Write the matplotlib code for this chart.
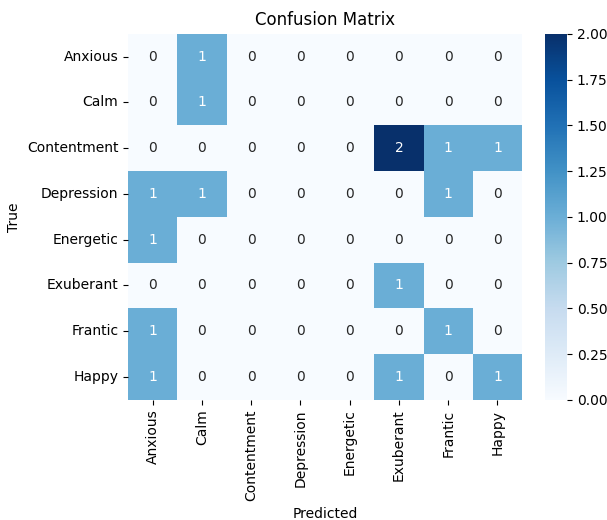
import matplotlib
matplotlib.use("Agg")
import matplotlib.pyplot as plt
import seaborn as sns
import numpy as np

labels = ["Anxious", "Calm", "Contentment", "Depression", "Energetic", "Exuberant", "Frantic", "Happy"]
cm = np.array([
    [0, 1, 0, 0, 0, 0, 0, 0],
    [0, 1, 0, 0, 0, 0, 0, 0],
    [0, 0, 0, 0, 0, 2, 1, 1],
    [1, 1, 0, 0, 0, 0, 1, 0],
    [1, 0, 0, 0, 0, 0, 0, 0],
    [0, 0, 0, 0, 0, 1, 0, 0],
    [1, 0, 0, 0, 0, 0, 1, 0],
    [1, 0, 0, 0, 0, 1, 0, 1],
])

fig = plt.figure(figsize=(6.07, 5.2), dpi=100)
ax = fig.add_axes([0.211, 0.231, 0.649, 0.704])
cax = fig.add_axes([0.898, 0.231, 0.036, 0.704])
sns.heatmap(cm, annot=True, fmt="d", cmap="Blues", xticklabels=labels, yticklabels=labels, ax=ax, cbar_ax=cax)
ax.set_xlabel("Predicted")
ax.set_ylabel("True")
ax.set_title("Confusion Matrix")
fig.savefig("out.png", dpi=100)
